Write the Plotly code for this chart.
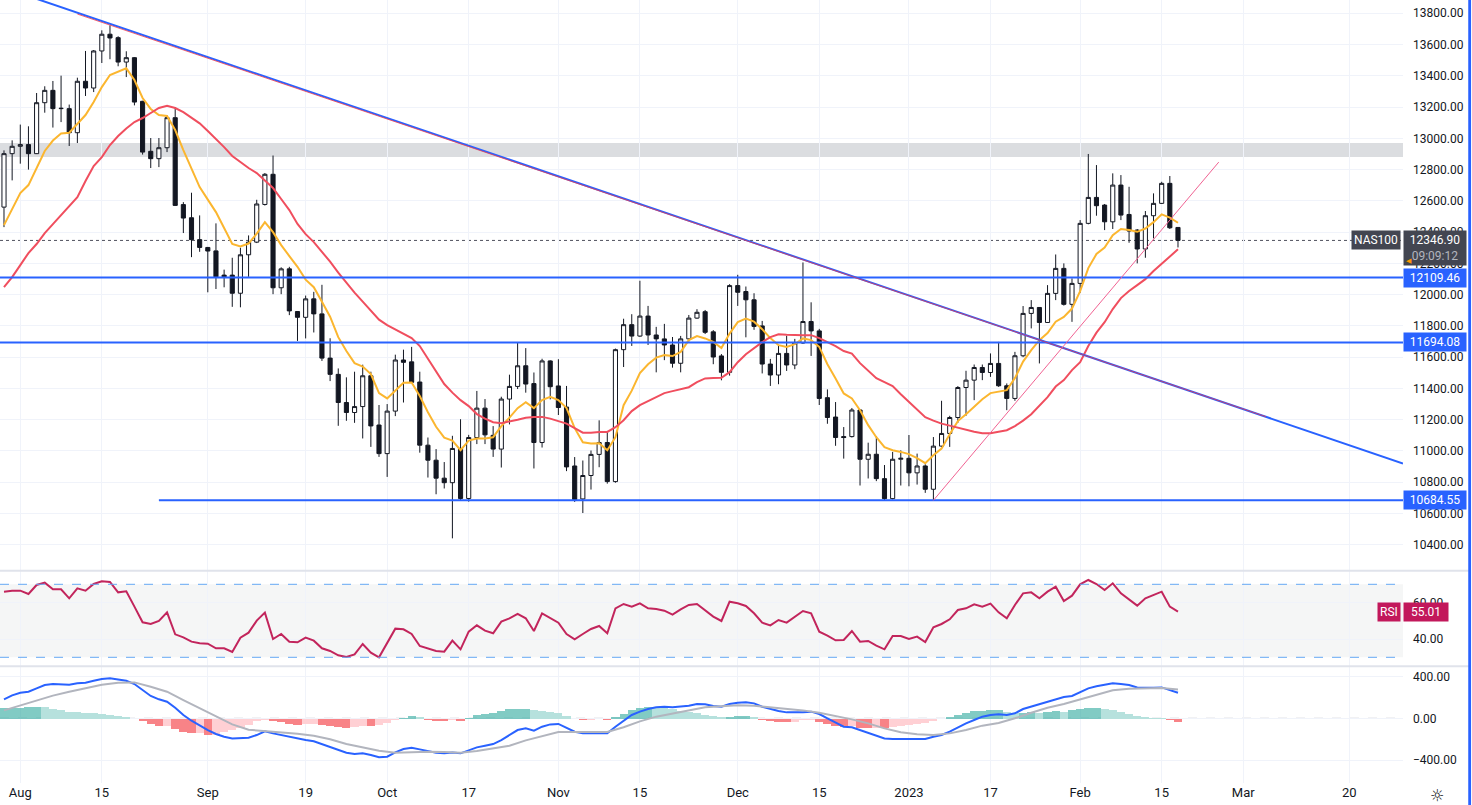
import pandas as pd
import plotly.graph_objects as go
from plotly.subplots import make_subplots

# ---------------- calendar (weekday bars, two market holidays skipped) ----------------
holidays = ["2022-12-26", "2023-01-02"]
dates = [d.strftime("%Y-%m-%d") for d in pd.bdate_range("2022-07-28", "2023-02-17")
         if d.strftime("%Y-%m-%d") not in holidays]

# ---------------- OHLC (NAS100, daily) ----------------
opens = [12560,12902,12949,12960,12902,13228,13307,13190,13190,13036,
         13365,13322,13559,13666,13644,13488,13516,13237,12917,12870,
         12940,13132,12576,12492,12352,12302,12280,12125,12125,12009,
         12255,12336,12577,12770,12044,12165,11892,11855,11973,11877,
         11594,11490,11310,11246,11284,11481,11166,10983,11255,11582,
         11570,11441,11037,10941,10826,10797,11016,10696,11086,11274,
         11100,11012,11332,11413,11545,11431,11054,11576,11416,11281,
         10904,10693,10843,10978,11054,10804,11648,11808,11735,11863,
         11742,11717,11678,11561,11717,11850,11891,11762,11608,11503,
         12058,12020,11967,11800,11556,11486,11624,11550,11691,11828,
         11768,11341,11217,11092,11092,11262,10947,10979,10823,10695,
         10947,10953,10860,10904,10755,11031,11112,11214,11406,11453,
         11534,11502,11560,11417,11336,11609,11880,11918,11822,12008,
         12168,11938,12072,12456,12622,12573,12466,12701,12513,12413,
         12292,12505,12584,12712,12430]
highs = [12923,12987,13088,13077,13290,13333,13367,13401,13216,13388,
         13559,13565,13691,13723,13653,13557,13520,13240,13002,13002,
         13147,13200,12592,12652,12507,12305,12456,12160,12236,12300,
         12379,12607,12778,12890,12175,12178,11895,11994,12018,12063,
         11721,11528,11471,11507,11552,11507,11294,11300,11616,11648,
         11666,11507,11086,11012,10929,11097,11203,11103,11384,11332,
         11159,11347,11488,11694,11658,11502,11590,11580,11587,11416,
         10961,10939,11003,11196,11127,11655,11846,11875,12089,11928,
         11794,11813,11729,11736,11870,11907,11902,11773,11620,12067,
         12127,12052,12009,11832,11589,11678,11737,11717,12206,11951,
         11781,11394,11313,11153,11275,11265,11053,11095,10910,10994,
         11004,11102,10983,10915,11089,11321,11225,11415,11513,11553,
         11553,11624,11698,11432,11634,11927,11965,11920,12061,12257,
         12200,12104,12477,12900,12829,12580,12776,12765,12690,12420,
         12535,12648,12722,12759,12432]
lows = [12432,12731,12838,12800,12900,13164,13069,13104,12951,12970,
        13271,13296,13482,13506,13461,13392,13211,12896,12810,12816,
        12912,12567,12394,12240,12274,12015,12036,12047,11922,11919,
        12114,12330,12570,12003,12003,11869,11704,11720,11758,11576,
        11447,11161,11193,11180,11080,11026,10962,10834,11223,11310,
        11435,10989,10830,10723,10760,10441,10680,10676,11044,11044,
        10962,10894,11170,11396,11373,10888,11022,11330,11230,10871,
        10674,10603,10753,10896,10791,10797,11537,11672,11730,11678,
        11503,11581,11533,11503,11700,11845,11748,11555,11452,11482,
        11928,11727,11775,11496,11416,11427,11512,11523,11685,11608,
        11294,11174,11033,10951,11086,10779,10824,10807,10680,10690,
        10779,10774,10785,10732,10680,11025,11026,11180,11225,11325,
        11453,11474,11410,11261,11321,11600,11784,11560,11820,11965,
        11930,11826,12012,12450,12505,12413,12420,12477,12332,12200,
        12236,12360,12580,12420,12302]
closes = [12902,12949,12960,12902,13228,13307,13190,13192,13036,13365,
          13322,13559,13666,13642,13488,13516,13232,12912,12870,12940,
          13132,12571,12490,12352,12302,12279,12114,12114,12009,12255,
          12336,12580,12770,12044,12165,11896,11855,11973,11877,11594,
          11490,11310,11246,11284,11481,11160,10983,11255,11582,11567,
          11439,11037,10941,10826,10797,11016,10696,11086,11274,11103,
          11012,11332,11413,11545,11428,11054,11576,11411,11278,10898,
          10689,10843,10978,11054,10804,11648,11808,11735,11863,11742,
          11717,11678,11561,11717,11850,11887,11759,11601,11503,12058,
          12015,11967,11797,11556,11486,11624,11550,11691,11828,11768,
          11336,11214,11086,11086,11262,10947,10979,10823,10695,10947,
          10953,10860,10904,10755,11031,11112,11214,11406,11453,11534,
          11502,11560,11417,11336,11609,11880,11918,11822,12008,12168,
          11938,12072,12456,12622,12569,12466,12701,12509,12407,12292,
          12505,12584,12712,12428,12346.9]

# ---------------- moving averages ----------------
ma_fast = [12445,12548,12650,12701,12810,12919,12986,13031,13036,13096,
           13149,13232,13328,13405,13426,13448,13373,13258,13188,13149,
           13143,13053,12925,12804,12688,12608,12528,12426,12324,12308,
           12327,12391,12464,12400,12317,12247,12178,12096,12048,11954,
           11859,11728,11639,11562,11540,11492,11370,11336,11389,11436,
           11438,11351,11248,11155,11085,11066,11005,11066,11080,11080,
           11088,11159,11213,11274,11312,11274,11325,11346,11325,11274,
           11146,11056,11048,11050,11005,11088,11293,11386,11498,11555,
           11597,11613,11607,11634,11709,11735,11720,11698,11658,11751,
           11824,11847,11827,11779,11722,11677,11666,11683,11720,11709,
           11666,11555,11464,11368,11336,11261,11165,11088,11024,11005,
           10994,10980,10954,10922,10973,11015,11107,11191,11235,11283,
           11331,11370,11378,11389,11466,11572,11645,11709,11754,11827,
           11858,11911,12023,12170,12260,12301,12381,12420,12413,12402,
           12423,12464,12514,12493,12460]
ma_slow = [12048,12112,12189,12266,12324,12394,12451,12509,12560,12624,
           12727,12823,12880,12957,13015,13063,13104,13130,13162,13194,
           13209,13194,13168,13130,13096,13047,12996,12944,12887,12848,
           12810,12778,12733,12682,12612,12541,12452,12387,12336,12275,
           12211,12141,12074,12013,11955,11895,11840,11805,11776,11751,
           11722,11671,11588,11504,11428,11373,11325,11287,11236,11207,
           11184,11178,11187,11200,11213,11218,11218,11207,11191,11175,
           11146,11117,11117,11122,11122,11152,11197,11255,11293,11319,
           11344,11370,11383,11395,11408,11440,11464,11466,11468,11504,
           11568,11619,11658,11696,11728,11747,11744,11741,11741,11741,
           11722,11696,11671,11639,11623,11562,11517,11466,11440,11415,
           11363,11312,11261,11216,11194,11175,11162,11148,11136,11123,
           11114,11114,11123,11133,11159,11194,11235,11290,11344,11412,
           11453,11517,11568,11671,11757,11824,11908,11978,12023,12061,
           12099,12151,12196,12240,12290]

# ---------------- RSI ----------------
rsi = [65.97,66.52,66.52,64.69,69.62,70.90,67.25,67.25,62.32,67.80,
       66.52,70.17,71.63,71.27,65.60,66.15,57.75,49.16,48.25,49.89,
       54.64,42.59,40.94,38.57,37.66,37.48,34.92,34.92,32.91,40.76,
       43.50,50.08,54.46,40.03,42.77,38.57,38.21,40.76,39.12,34.92,
       33.46,31.08,30.17,31.63,37.29,32.54,30.00,38.03,45.69,45.33,
       42.77,36.20,34.92,33.46,33.09,39.12,34.37,44.05,47.52,44.60,
       43.14,49.53,51.36,53.73,51.36,44.42,54.10,51.36,48.98,42.77,
       39.85,42.77,45.51,47.16,43.14,56.84,59.21,57.75,59.58,56.84,
       56.47,55.56,53.37,56.29,58.66,59.21,55.92,52.27,49.89,60.49,
       59.58,58.11,54.10,48.98,47.52,50.44,48.98,52.27,55.37,54.10,
       44.05,41.86,39.30,39.48,44.42,38.57,38.94,36.38,34.37,41.68,
       41.68,40.03,41.31,38.39,46.43,48.25,50.81,55.92,56.84,59.03,
       57.75,59.39,54.64,51.36,58.66,65.05,65.60,62.32,65.97,68.71,
       60.85,63.78,69.99,72.36,70.17,66.88,70.54,65.05,61.77,58.30,
       62.32,64.14,65.97,57.75,55.01]

# ---------------- MACD ----------------
macd = [182,220,245,255,287,319,328,328,322,335,
        341,360,376,383,373,360,328,271,214,182,
        159,102,32,-23,-70,-112,-150,-176,-192,-192,
        -185,-160,-125,-144,-160,-176,-198,-208,-220,-246,
        -271,-303,-329,-342,-335,-351,-373,-367,-326,-294,
        -281,-297,-313,-329,-335,-326,-335,-310,-278,-262,
        -246,-208,-160,-112,-96,-118,-80,-58,-54,-90,
        -128,-144,-144,-137,-144,-80,-23,32,64,89,
        105,111,105,111,121,137,134,118,111,137,
        150,153,143,111,89,70,57,54,57,64,
        41,0,-42,-80,-86,-112,-137,-160,-192,-198,
        -198,-198,-198,-198,-176,-160,-128,-86,-48,-16,
        16,32,38,32,48,89,111,131,159,182,
        204,214,249,287,306,319,335,328,319,296,
        293,293,296,274,245]
signal_bar = list(range(0, 145, 2))
signal = [76,124,169,217,255,290,322,341,344,303,
          255,175,99,19,-58,-109,-121,-128,-147,-166,
          -201,-246,-281,-310,-329,-322,-319,-322,-329,-313,
          -284,-262,-211,-169,-131,-131,-134,-131,-86,-29,
          16,45,80,105,115,124,121,108,89,76,
          54,25,-10,-48,-96,-134,-153,-160,-144,-112,
          -70,-45,0,54,102,137,182,226,268,284,
          290,290,277]
hist = [100,105,105,112,112,110,95,80,70,65,
        57,52,48,41,30,16,-2,-16,-48,-70,
        -68,-100,-125,-140,-135,-155,-150,-128,-108,-85,
        -60,-20,-8,-20,-35,-45,-55,-52,-50,-62,
        -72,-82,-86,-78,-66,-72,-60,-38,-12,10,
        25,16,-10,-16,-22,-10,-16,10,32,48,
        54,73,90,95,95,80,75,70,60,30,
        -5,-15,-10,-5,-10,15,50,80,100,110,
        108,100,90,75,65,55,40,25,15,20,
        25,25,15,-10,-25,-30,-35,-30,-15,-10,
        -30,-50,-65,-80,-70,-85,-90,-85,-90,-80,
        -70,-60,-50,-40,-25,-5,20,40,60,75,
        75,80,80,65,55,58,65,60,70,75,
        70,80,95,100,100,90,85,70,50,30,
        15,10,5,-12,-30]

# ---------------- drawings ----------------
levels = [12109.46, 11694.08, 10684.55]
level_start = ["2022-07-27 12:15", "2022-07-27 12:15", "2022-08-24"]
zone = [12880, 12970]
last_price = 12346.90
down_line_x = ["2022-07-27 12:15", "2023-03-28 14:24"]
down_line_y = [13972, 10920]
down_line2_x = ["2022-08-10", "2023-03-03 19:12"]
down_line2_y = [13795, 11219]
up_line_x = ["2023-01-06", "2023-02-24"]
up_line_y = [10684, 12848]

tick_dates = ["2022-08-01", "2022-08-15", "2022-09-01", "2022-09-19", "2022-10-03",
              "2022-10-17", "2022-11-01", "2022-11-15", "2022-12-01", "2022-12-15",
              "2023-01-03", "2023-01-17", "2023-02-01", "2023-02-15", "2023-03-01",
              "2023-03-20"]
tick_text = ["Aug", "15", "Sep", "19", "Oct", "17", "Nov", "15", "Dec", "15",
             "2023", "17", "Feb", "15", "Mar", "20"]

X_RANGE = ["2022-07-27 12:15", "2023-03-28 14:24"]
FONT = "Roboto, 'Liberation Sans', sans-serif"
TXT = "#131722"
GRID = "#f0f3fa"
BLUE = "#2962ff"

fig = make_subplots(rows=3, cols=1, shared_xaxes=True, vertical_spacing=0)

# main panel
fig.add_trace(go.Candlestick(
    x=dates, open=opens, high=highs, low=lows, close=closes,
    increasing=dict(line=dict(color=TXT, width=1), fillcolor="#ffffff"),
    decreasing=dict(line=dict(color=TXT, width=1), fillcolor=TXT),
    whiskerwidth=0, hoverinfo="skip"), row=1, col=1)
fig.add_trace(go.Scatter(x=dates, y=ma_fast, mode="lines",
                         line=dict(color="#fbb62f", width=2), hoverinfo="skip"), row=1, col=1)
fig.add_trace(go.Scatter(x=dates, y=ma_slow, mode="lines",
                         line=dict(color="#f04e5e", width=2), hoverinfo="skip"), row=1, col=1)

for lv, st in zip(levels, level_start):
    fig.add_trace(go.Scatter(x=[st, X_RANGE[1]], y=[lv, lv], mode="lines",
                             line=dict(color=BLUE, width=2), hoverinfo="skip"), row=1, col=1)
fig.add_trace(go.Scatter(x=down_line_x, y=down_line_y, mode="lines",
                         line=dict(color=BLUE, width=2), hoverinfo="skip"), row=1, col=1)
fig.add_trace(go.Scatter(x=down_line2_x, y=down_line2_y, mode="lines",
                         line=dict(color="rgba(242,54,69,0.75)", width=1), hoverinfo="skip"), row=1, col=1)
fig.add_trace(go.Scatter(x=up_line_x, y=up_line_y, mode="lines",
                         line=dict(color="#f06292", width=1), hoverinfo="skip"), row=1, col=1)

# RSI panel
fig.add_trace(go.Scatter(x=dates, y=rsi, mode="lines",
                         line=dict(color="#c2255c", width=2), hoverinfo="skip"), row=2, col=1)

# MACD panel
hcolors = []
for k, h in enumerate(hist):
    prev = hist[k - 1] if k > 0 else h
    if h >= 0:
        hcolors.append("rgba(38,166,154,0.58)" if h >= prev else "rgba(178,223,219,0.95)")
    else:
        hcolors.append("rgba(245,90,95,0.75)" if h <= prev else "rgba(255,205,210,0.95)")
fig.add_trace(go.Bar(x=dates, y=hist, marker=dict(color=hcolors, line=dict(width=0)),
                     hoverinfo="skip"), row=3, col=1)
fig.add_trace(go.Scatter(x=dates, y=macd, mode="lines",
                         line=dict(color=BLUE, width=2), hoverinfo="skip"), row=3, col=1)
fig.add_trace(go.Scatter(x=[dates[i] for i in signal_bar], y=signal, mode="lines",
                         line=dict(color="#b2b5be", width=2), hoverinfo="skip"), row=3, col=1)

H_PLOT = 783.0
def py(pix):
    return (H_PLOT - pix) / H_PLOT

fig.update_layout(
    width=1472, height=805,
    margin=dict(l=0, r=69, t=0, b=22),
    paper_bgcolor="#ffffff", plot_bgcolor="#ffffff",
    showlegend=False, bargap=0, boxgap=0.28,
    font=dict(family=FONT, size=12, color=TXT),
    yaxis=dict(domain=[py(570.7), 1.0]),
    yaxis2=dict(domain=[py(666.3), py(570.7)]),
    yaxis3=dict(domain=[0.0, py(666.5)]),
)

fig.update_xaxes(type="date", range=X_RANGE,
                 rangebreaks=[dict(bounds=["sat", "mon"]), dict(values=holidays)],
                 tickvals=tick_dates, ticktext=tick_text,
                 showgrid=True, gridcolor=GRID, gridwidth=1,
                 zeroline=False, showline=False, ticks="",
                 showticklabels=False, rangeslider_visible=False, fixedrange=True)
fig.update_xaxes(showticklabels=True, tickfont=dict(size=13, color=TXT), row=3, col=1)

common_y = dict(side="right", showline=False, zeroline=False, ticks="",
                gridcolor=GRID, gridwidth=1, tickfont=dict(size=12, color=TXT),
                ticklabelstandoff=9, fixedrange=True)
fig.update_yaxes(range=[10234, 13885], dtick=200, tick0=0, tickformat=".2f",
                 row=1, col=1, **common_y)
fig.update_yaxes(range=[25.07, 77.45], tickvals=[40, 60], ticktext=["40.00", "60.00"],
                 row=2, col=1, **common_y)
fig.update_yaxes(range=[-619, 496], tickvals=[-400, 0, 400], tickformat=".2f",
                 row=3, col=1, **common_y)

shapes = [
    # resistance zone
    dict(type="rect", xref="paper", x0=0, x1=1, yref="y", y0=zone[0], y1=zone[1],
         fillcolor="rgba(190,193,199,0.55)", line=dict(width=0), layer="between"),
    # last price dotted line
    dict(type="line", xref="paper", x0=0, x1=1, yref="y", y0=last_price, y1=last_price,
         line=dict(color="#50535e", width=1, dash="dot"), layer="between"),
    # RSI band
    dict(type="rect", xref="paper", x0=0, x1=1, yref="y2", y0=30, y1=70,
         fillcolor="rgba(120,123,134,0.07)", line=dict(width=0), layer="below"),
    dict(type="line", xref="paper", x0=0, x1=1, yref="y2", y0=70, y1=70,
         line=dict(color="#64a8f4", width=1, dash="dash")),
    dict(type="line", xref="paper", x0=0, x1=1, yref="y2", y0=30, y1=30,
         line=dict(color="#64a8f4", width=1, dash="dash")),
    # MACD zero line
    dict(type="line", xref="paper", x0=0, x1=1, yref="y3", y0=0, y1=0,
         line=dict(color="#b2b5be", width=1, dash="dash"), layer="between"),
    # panel separators
    dict(type="line", xref="paper", x0=0, x1=1.047, yref="paper", y0=py(570.7), y1=py(570.7),
         line=dict(color="#e0e3eb", width=2)),
    dict(type="line", xref="paper", x0=0, x1=1.047, yref="paper", y0=py(666.3), y1=py(666.3),
         line=dict(color="#e0e3eb", width=2)),
    # right border of the chart widget
    dict(type="rect", xref="paper", x0=1.0465, x1=1.0485, yref="paper", y0=-0.03, y1=1.0,
         fillcolor=BLUE, line=dict(width=0), layer="above"),
]
fig.update_layout(shapes=shapes)

ann = []
for lv in levels:
    ann.append(dict(xref="paper", x=1.0, xanchor="left", yref="y", y=lv, yanchor="middle",
                    text="%.2f" % lv, showarrow=False, bgcolor=BLUE, width=58, borderpad=2,
                    font=dict(color="#ffffff", size=12, family=FONT)))
ann.append(dict(xref="paper", x=1.0, xanchor="left", yref="y", y=12298, yanchor="middle",
                text="%.2f<br><span style='color:#b2b5be'>09:09:12</span>" % last_price,
                showarrow=False, bgcolor="#434651", width=58, borderpad=2,
                font=dict(color="#ffffff", size=12, family=FONT)))
ann.append(dict(xref="paper", x=0.9985, xanchor="right", yref="y", y=last_price, yanchor="middle",
                text="NAS100", showarrow=False, bgcolor="#434651", borderpad=2,
                font=dict(color="#ffffff", size=12, family=FONT)))
ann.append(dict(xref="paper", x=1.0005, xanchor="left", yref="y", y=12215, yanchor="middle",
                text="◀", showarrow=False, font=dict(color="#ff9800", size=7)))
ann.append(dict(xref="paper", x=0.9985, xanchor="right", yref="y2", y=rsi[-1], yanchor="middle",
                text="RSI", showarrow=False, bgcolor="#c2185b", borderpad=2,
                font=dict(color="#ffffff", size=12, family=FONT)))
ann.append(dict(xref="paper", x=1.0, xanchor="left", yref="y2", y=rsi[-1], yanchor="middle",
                text="%.2f" % rsi[-1], showarrow=False, bgcolor="#c2185b", width=40, borderpad=2,
                font=dict(color="#ffffff", size=12, family=FONT)))
ann.append(dict(xref="paper", x=1.0242, xanchor="center", yref="paper", y=-0.016, yanchor="middle",
                text="☼", showarrow=False, font=dict(color=TXT, size=16, family="DejaVu Sans")))
fig.update_layout(annotations=ann)

fig.write_html("out.html",
               config={"displayModeBar": False},
               post_script="document.body.style.margin='0';document.body.style.overflow='hidden';")
